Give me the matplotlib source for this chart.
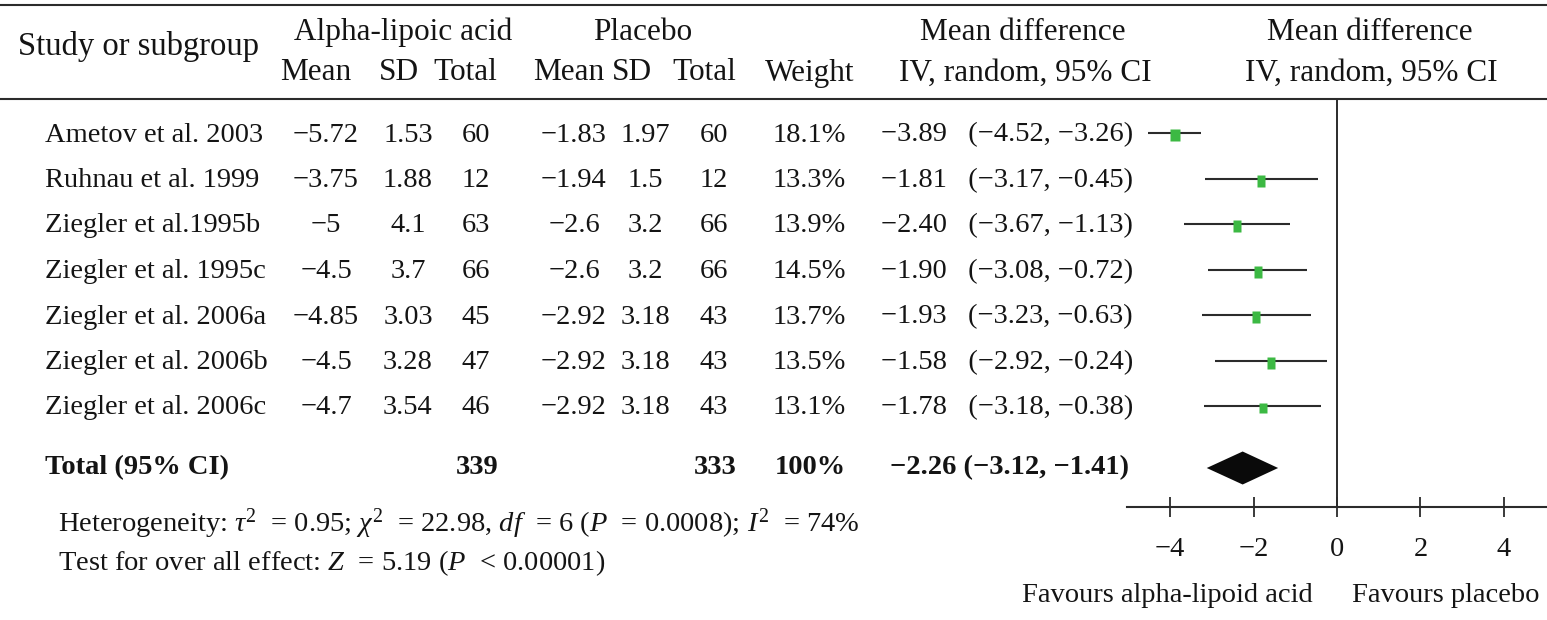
import numpy as np
import matplotlib.pyplot as plt
from matplotlib.path import Path

plt.rcParams['font.family'] = ['Liberation Serif', 'DejaVu Serif']
plt.rcParams['mathtext.fontset'] = 'custom'
plt.rcParams['mathtext.rm'] = 'Liberation Serif'
plt.rcParams['mathtext.it'] = 'Liberation Serif:italic'
plt.rcParams['mathtext.bf'] = 'Liberation Serif:bold'

# study data
studies = ['Ametov et al. 2003', 'Ruhnau et al. 1999', 'Ziegler et al.1995b',
           'Ziegler et al. 1995c', 'Ziegler et al. 2006a', 'Ziegler et al. 2006b',
           'Ziegler et al. 2006c']
ala_mean = [-5.72, -3.75, -5, -4.5, -4.85, -4.5, -4.7]
ala_sd = [1.53, 1.88, 4.1, 3.7, 3.03, 3.28, 3.54]
ala_n = [60, 12, 63, 66, 45, 47, 46]
pla_mean = [-1.83, -1.94, -2.6, -2.6, -2.92, -2.92, -2.92]
pla_sd = [1.97, 1.5, 3.2, 3.2, 3.18, 3.18, 3.18]
pla_n = [60, 12, 66, 66, 43, 43, 43]
weight = [18.1, 13.3, 13.9, 14.5, 13.7, 13.5, 13.1]
md = [-3.89, -1.81, -2.40, -1.90, -1.93, -1.58, -1.78]
ci_lo = [-4.52, -3.17, -3.67, -3.08, -3.23, -2.92, -3.18]
ci_hi = [-3.26, -0.45, -1.13, -0.72, -0.63, -0.24, -0.38]

total_ala = 339
total_pla = 333
total_md = -2.26
total_lo = -3.12
total_hi = -1.41

xticks = [-4, -2, 0, 2, 4]

TXT = '#141414'
LINE = '#2b2b2b'
GREEN = '#3cb943'
FS = 20.5
HFS = 22.5


def num(v):
    return f'{v:g}'.replace('-', '\u2212')


def dec(v):
    return f'{v:.2f}'.replace('-', '\u2212')


W, H = 1547, 620
fig = plt.figure(figsize=(W / 100, H / 100), dpi=100)

# text table laid out in pixel units
tab = fig.add_axes([0, 0, 1, 1])
tab.set_xlim(0, W)
tab.set_ylim(H, 0)
tab.axis('off')

row_y = [135 + 45.5 * i for i in range(len(studies))]
total_y = 468

tab.axhline(5, color=LINE, lw=1.5)
tab.axhline(99, color=LINE, lw=1.5)

tab.text(18, 47, 'Study or subgroup', fontsize=23.5, color=TXT, va='center')
tab.text(403, 32, 'Alpha-lipoic acid', fontsize=HFS, color=TXT, va='center', ha='center')
tab.text(643, 32, 'Placebo', fontsize=HFS, color=TXT, va='center', ha='center')
tab.text(1023, 32, 'Mean difference', fontsize=HFS, color=TXT, va='center', ha='center')
tab.text(1370, 32, 'Mean difference', fontsize=HFS, color=TXT, va='center', ha='center')
for x, s in [(316, 'Mean'), (399, 'SD'), (465, 'Total'), (569, 'Mean'), (632, 'SD'),
             (704, 'Total'), (810, 'Weight'), (1025, 'IV, random, 95% CI'),
             (1371, 'IV, random, 95% CI')]:
    tab.text(x, 73, s, fontsize=HFS, color=TXT, va='center', ha='center')

cols = [326, 408, 476, 574, 645, 714, 809]
for i, y in enumerate(row_y):
    tab.text(45, y, studies[i], fontsize=FS, color=TXT, va='center')
    vals = [num(ala_mean[i]), num(ala_sd[i]), str(ala_n[i]),
            num(pla_mean[i]), num(pla_sd[i]), str(pla_n[i]), f'{weight[i]:.1f}%']
    for x, s in zip(cols, vals):
        tab.text(x, y, s, fontsize=FS, color=TXT, va='center', ha='center')
    tab.text(1007, y, f'{dec(md[i])}   ({dec(ci_lo[i])}, {dec(ci_hi[i])})',
             fontsize=FS, color=TXT, va='center', ha='center')

bold = dict(fontsize=FS, color=TXT, va='center', fontweight='bold')
tab.text(45, total_y, 'Total (95% CI)', **bold)
tab.text(477, total_y, str(total_ala), ha='center', **bold)
tab.text(715, total_y, str(total_pla), ha='center', **bold)
tab.text(810, total_y, '100%', ha='center', **bold)
tab.text(1009, total_y, f'{dec(total_md)} ({dec(total_lo)}, {dec(total_hi)})',
         ha='center', **bold)

tab.text(58, 524, r'Heterogeneity: $\tau^2$  = 0.95; $\chi^2$  = 22.98, $df$  = 6 ($P$  = 0.0008); $I^2$  = 74%',
         fontsize=FS, color=TXT, va='center')
tab.text(58, 563, r'Test for over all effect: $Z$  = 5.19 ($P$  < 0.00001)',
         fontsize=FS, color=TXT, va='center')

tab.text(1022, 596, 'Favours alpha-lipoid acid', fontsize=FS, color=TXT, va='center')
tab.text(1352, 596, 'Favours placebo', fontsize=FS, color=TXT, va='center')

# forest plot
x0, x1, ytop, ybot = 1127, 1547, 100, 507
ax = fig.add_axes([x0 / W, 1 - ybot / H, (x1 - x0) / W, (ybot - ytop) / H])
ax.patch.set_alpha(0)
ax.set_xlim(-5.03, 5.03)
ax.set_ylim(ybot, ytop)
for side in ['top', 'left', 'right']:
    ax.spines[side].set_visible(False)
ax.spines['bottom'].set_color(LINE)
ax.spines['bottom'].set_linewidth(1.5)
ax.set_yticks([])
ax.set_xticks(xticks)
ax.set_xticklabels([num(t) for t in xticks])
ax.tick_params(axis='x', direction='inout', length=15, width=1.3, color=LINE,
               labelsize=FS, labelcolor=TXT, pad=14)

ax.axvline(0, color=LINE, lw=1.4)

box = Path([(-0.36, -0.5), (0.36, -0.5), (0.36, 0.5), (-0.36, 0.5), (-0.36, -0.5)],
           [Path.MOVETO, Path.LINETO, Path.LINETO, Path.LINETO, Path.CLOSEPOLY])
for i, y in enumerate(row_y):
    ax.plot([ci_lo[i], ci_hi[i]], [y - 2, y - 2], color=LINE, lw=1.5, solid_capstyle='butt')
    ax.plot(md[i], y, marker=box, ms=8.0 * np.sqrt(weight[i] / 13.5),
            color=GREEN, mec='none', ls='none')

dh = 16.5
ax.fill([total_lo, total_md, total_hi, total_md],
        [total_y, total_y - dh, total_y, total_y + dh], color='#0a0a0a', lw=0)

fig.savefig('out.png', dpi=100)
